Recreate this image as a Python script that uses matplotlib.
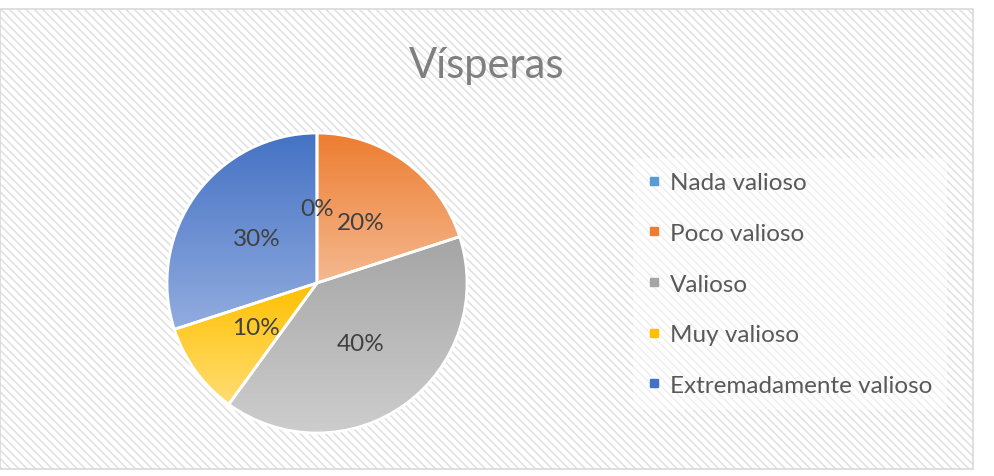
import numpy as np
import matplotlib.pyplot as plt
from matplotlib.patches import Rectangle
from matplotlib.lines import Line2D
from matplotlib.colors import to_rgb

# Data
categorias = ["Nada valioso", "Poco valioso", "Valioso", "Muy valioso", "Extremadamente valioso"]
valores = [0, 2, 4, 1, 3]
colores = ["#5B9BD5", "#ED7D31", "#A5A5A5", "#FFC000", "#4472C4"]
colores_claros = ["#A9CBEA", "#F5B990", "#CDCDCD", "#FFDD73", "#92ACDF"]
titulo = "Vísperas"

plt.rcParams['font.family'] = ['Lato', 'DejaVu Sans']
plt.rcParams['hatch.linewidth'] = 1.1

W, H = 994, 477
fig = plt.figure(figsize=(W / 100, H / 100), dpi=100)
fig.patch.set_facecolor("white")

# chart area with diagonal hatch background
fondo = Rectangle((0, 7 / H), 973 / W, 460 / H, transform=fig.transFigure,
                  facecolor="white", edgecolor="#e0e0e0", linewidth=0,
                  hatch="\\\\\\\\", zorder=-3)
fig.patches.append(fondo)
borde = Rectangle((0, 7 / H), 973 / W, 460 / H, transform=fig.transFigure,
                  facecolor="none", edgecolor="#d9d9d9", linewidth=1.2, zorder=-2)
fig.patches.append(borde)

fig.text(487 / W, 1 - 66 / H, titulo, ha="center", va="center",
         fontsize=30, color="#7f7f7f")

# pie
cx, cy, r = 317, 284, 153
ax = fig.add_axes([(cx - r) / W, (H - cy - r) / H, 2 * r / W, 2 * r / H])
ax.set_zorder(1)
ax.set_facecolor("none")
wedges, textos, autotextos = ax.pie(
    valores, colors=colores, startangle=90, counterclock=False,
    autopct="%1.0f%%", pctdistance=0.5, radius=1,
    wedgeprops=dict(edgecolor="white", linewidth=2),
    textprops=dict(color="#404040", fontsize=17.5))

# gradient fill inside each wedge
for w, c1, c2 in zip(wedges, colores, colores_claros):
    if w.theta2 - w.theta1 <= 0:
        continue
    ext = w.get_path().get_extents()
    a, b = np.array(to_rgb(c1)), np.array(to_rgb(c2))
    t = np.linspace(0, 1, 200)[:, None, None]
    grad = a * (1 - t) + b * t
    im = ax.imshow(grad, extent=[ext.x0, ext.x1, ext.y0, ext.y1], origin="upper",
                   aspect="auto", zorder=1, interpolation="bilinear")
    im.set_clip_path(w)
    w.set_facecolor("none")
    w.set_zorder(2)
for tx in autotextos:
    tx.set_zorder(3)

ax.set_xlim(-1.02, 1.02)
ax.set_ylim(-1.02, 1.02)
ax.set_aspect("equal")
ax.axis("off")

# legend
handles = [Line2D([], [], marker="s", linestyle="none", markersize=6,
                  markerfacecolor=c, markeredgecolor=c) for c in colores]
leg = fig.legend(handles, categorias, loc="center left",
                 bbox_to_anchor=(621 / W, 1 - 285 / H),
                 frameon=True, fontsize=17.5, labelcolor="#595959",
                 handlelength=0.5, handletextpad=0.4, labelspacing=1.22,
                 borderpad=0.6)
leg.get_frame().set_facecolor("white")
leg.get_frame().set_alpha(0.5)
leg.get_frame().set_edgecolor("none")

fig.savefig("out.png", dpi=100)
